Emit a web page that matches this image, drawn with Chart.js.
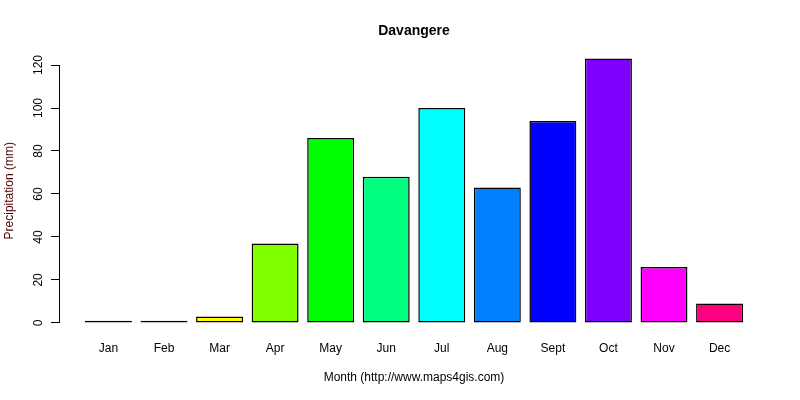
<!DOCTYPE html>
<html>
<head>
<meta charset="utf-8">
<script src="https://cdn.jsdelivr.net/npm/chart.js@4.4.0/dist/chart.umd.min.js"></script>
<style>
  html, body { margin: 0; padding: 0; background: #fff; }
</style>
</head>
<body>
<canvas id="myChart" width="800" height="400"></canvas>
<script>
const months = ['Jan', 'Feb', 'Mar', 'Apr', 'May', 'Jun', 'Jul', 'Aug', 'Sept', 'Oct', 'Nov', 'Dec'];
const rainfall = [1, 1, 3, 37, 86, 68, 100, 63, 94, 123, 26, 9];
const barColors = ['#FF0000', '#FF8000', '#FFFF00', '#80FF00', '#00FF00', '#00FF80',
                   '#00FFFF', '#0080FF', '#0000FF', '#8000FF', '#FF00FF', '#FF0080'];
const yTicks = [0, 20, 40, 60, 80, 100, 120];

// R barplot style: bar width 1, gap 0.2, 4% axis extension
const xPos = months.map((m, i) => 0.7 + 1.2 * i);

Chart.defaults.font.family = "'Liberation Sans', Arial, sans-serif";
Chart.defaults.font.size = 12;
Chart.defaults.color = '#000';

const rAxis = {
  id: 'rAxis',
  afterDraw(chart) {
    const { ctx, chartArea, scales: { y } } = chart;
    ctx.save();
    ctx.strokeStyle = '#000';
    ctx.lineWidth = 1;
    ctx.beginPath();
    ctx.moveTo(chartArea.left + 0.5, y.getPixelForValue(yTicks[0]));
    ctx.lineTo(chartArea.left + 0.5, y.getPixelForValue(yTicks[yTicks.length - 1]));
    ctx.stroke();
    ctx.fillStyle = '#000';
    ctx.font = "bold 14px 'Liberation Sans', Arial, sans-serif";
    ctx.textAlign = 'center';
    ctx.textBaseline = 'middle';
    ctx.fillText('Davangere', (chartArea.left + chartArea.right) / 2, 31);
    ctx.restore();
  }
};

const ctx = document.getElementById('myChart').getContext('2d');
const myChart = new Chart(ctx, {
  type: 'bar',
  data: {
    datasets: [{
      data: rainfall.map((v, i) => ({ x: xPos[i], y: v })),
      backgroundColor: barColors,
      borderColor: '#000',
      borderWidth: 1.5,
      borderSkipped: false,
      barPercentage: 0.845,
      categoryPercentage: 1
    }]
  },
  options: {
    responsive: false,
    animation: false,
    layout: { padding: { top: 48, right: 31, left: 0, bottom: 0 } },
    plugins: {
      legend: { display: false },
      tooltip: { enabled: false }
    },
    scales: {
      x: {
        type: 'linear',
        offset: false,
        min: -0.368,
        max: 14.968,
        grid: { display: false, drawTicks: false },
        border: { display: false },
        afterBuildTicks: s => { s.ticks = xPos.map(v => ({ value: v })); },
        afterFit: s => { s.height = 66.5; },
        ticks: {
          padding: 8,
          maxRotation: 0,
          autoSkip: false,
          callback: (v, i) => months[i]
        },
        title: {
          display: true,
          text: 'Month (http://www.maps4gis.com)',
          padding: { top: 0, bottom: 15 }
        }
      },
      y: {
        min: -4.92,
        max: 127.92,
        grid: { drawOnChartArea: false, drawTicks: true, tickLength: 8, color: '#000' },
        border: { display: false },
        afterBuildTicks: s => { s.ticks = yTicks.map(v => ({ value: v })); },
        afterFit: s => { s.width = 59; },
        ticks: {
          minRotation: 90,
          maxRotation: 90,
          crossAlign: 'center',
          padding: 2
        },
        title: {
          display: true,
          text: 'Precipitation (mm)',
          color: '#4d0000',
          padding: { top: 2, bottom: 0 }
        }
      }
    }
  },
  plugins: [rAxis]
});
</script>
</body>
</html>
